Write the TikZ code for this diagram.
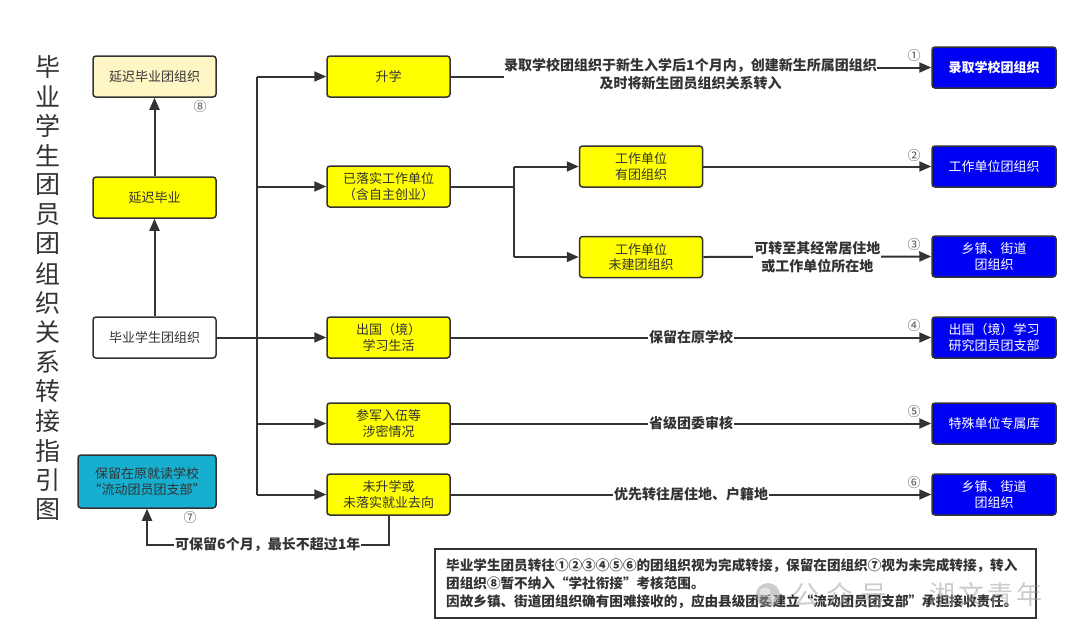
\documentclass[tikz,border=0pt]{standalone}
\usepackage{fontspec}
\setmainfont{Noto Sans CJK SC}
\usetikzlibrary{arrows.meta}
\definecolor{lc}{HTML}{333333}
\definecolor{yel}{HTML}{FFFF00}
\definecolor{lyel}{HTML}{FFF6C6}
\definecolor{bluebox}{HTML}{0000F2}
\definecolor{cyanbox}{HTML}{17AFCF}
\definecolor{wm}{HTML}{9A9A9A}
\newcommand\bxfont{\fontsize{13}{15.5}\selectfont}
\newcommand\lbfont{\bfseries\fontsize{14}{18}\selectfont}
\tikzset{
  box/.style={draw=lc, line width=1.5pt, rounded corners=3pt, minimum width=123pt,
    minimum height=41pt, inner sep=0pt, align=center, font=\bxfont, text=lc},
  ybox/.style={box, fill=yel},
  bbox/.style={box, fill=bluebox, text=white, minimum width=124pt},
  ln/.style={draw=lc, line width=2pt},
  arr/.style={ln, -{Triangle[length=12pt,width=10pt]}},
  lbl/.style={fill=white, inner sep=1pt, font=\lbfont, text=lc, align=center},
  num/.style={font=\fontsize{13}{13}\selectfont, text=lc!85, inner sep=0pt},
  titlech/.style={font=\fontsize{25}{25}\selectfont, text=lc, inner sep=0pt}
}
\begin{document}
\begin{tikzpicture}[x=1pt,y=-1pt]
\useasboundingbox (0,0) rectangle (1080,641);
\fill[white] (0,0) rectangle (1080,641);

% title
\foreach \c [count=\i from 0] in {毕,业,学,生,团,员,团,组,织,关,系,转,接,指,引,图}
  \node[titlech] (t\i) at (48,{67+29.5*\i}) {\c};

% left column
\node[box, fill=lyel] (delayorg) at (154.5,76.5) {延迟毕业团组织};
\node[ybox] (delay) at (154.5,197.5) {延迟毕业};
\node[box, fill=white] (grad) at (154.5,337.5) {毕业学生团组织};
\node[box, fill=cyanbox, minimum width=138pt, minimum height=53pt] (keep) at (147,481.5) {保留在原就读学校\\“流动团员团支部”};
\node[num] (n8) at (200,107) {⑧};
\node[num] (n7) at (190,518) {⑦};

% second column
\node[ybox] (shengxue) at (388.5,76.5) {升学};
\node[ybox] (yiluoshi) at (388.5,186.5) {已落实工作单位\\（含自主创业）};
\node[ybox] (chuguo) at (388.5,337.5) {出国（境）\\学习生活};
\node[ybox] (canjun) at (388.5,423.5) {参军入伍等\\涉密情况};
\node[ybox] (weisheng) at (388.5,494.5) {未升学或\\未落实就业去向};

% third column
\node[ybox, minimum width=123pt] (youtuan) at (641,166.5) {工作单位\\有团组织};
\node[ybox, minimum width=123pt] (weijian) at (641,257) {工作单位\\未建团组织};

% blue column
\node[bbox, font=\bxfont\bfseries] (b1) at (994,67.5) {录取学校团组织};
\node[bbox] (b2) at (994,166.5) {工作单位团组织};
\node[bbox] (b3) at (994,256.5) {乡镇、街道\\团组织};
\node[bbox] (b4) at (994,337.5) {出国（境）学习\\研究团员团支部};
\node[bbox] (b5) at (994,423.5) {特殊单位专属库};
\node[bbox] (b6) at (994,494.5) {乡镇、街道\\团组织};

\node[num] (n1) at (914,56) {①};
\node[num] (n2) at (914,156) {②};
\node[num] (n3) at (914,245) {③};
\node[num] (n4) at (914,326) {④};
\node[num] (n5) at (914,412) {⑤};
\node[num] (n6) at (914,483) {⑥};

% connectors, left
\draw[arr] (grad.north) -- (delay.south);
\draw[arr] (delay.north) -- (delayorg.south);
\coordinate (tx) at (257,337.5);
\draw[ln] (tx |- shengxue.west) -- (tx |- weisheng.west);
\draw[arr] (grad.east) -- (chuguo.west);
\draw[arr] (tx |- shengxue.west) -- (shengxue.west);
\draw[arr] (tx |- yiluoshi.west) -- (yiluoshi.west);
\draw[arr] (tx |- canjun.west) -- (canjun.west);
\draw[arr] (tx |- weisheng.west) -- (weisheng.west);

% work unit branch
\coordinate (bx) at (514,186.5);
\draw[ln] (yiluoshi.east) -- (bx);
\draw[ln] (bx |- youtuan.west) -- (bx |- weijian.west);
\draw[arr] (bx |- youtuan.west) -- (youtuan.west);
\draw[arr] (bx |- weijian.west) -- (weijian.west);

% 升学 -> 录取
\node[lbl, inner sep=0pt] (lab1) at (690.5,74.5) {录取学校团组织于新生入学后1个月内，创建新生所属团组织\\及时将新生团员组织关系转入};
\draw[ln] (shengxue.east) -- (lab1.west |- shengxue.east);
\draw[arr] (lab1.east |- b1.west) -- (b1.west);

% others to blue
\draw[arr] (youtuan.east) -- (b2.west);
\draw[arr] (weijian.east) -- (b3.west) node[lbl, midway] (lab3) {可转至其经常居住地\\或工作单位所在地};
\draw[arr] (chuguo.east) -- (b4.west) node[lbl, midway] (lab4) {保留在原学校};
\draw[arr] (canjun.east) -- (b5.west) node[lbl, midway] (lab5) {省级团委审核};
\draw[arr] (weisheng.east) -- (b6.west) node[lbl, midway] (lab6) {优先转往居住地、户籍地};

% bottom loop
\coordinate (lp) at (388.5,545);
\draw[arr] (weisheng.south) |- node[lbl, pos=0.75] (lab7) {可保留6个月，最长不超过1年} (keep.south |- lp) -- (keep.south);

% note box
\node[draw=lc, line width=2pt, minimum width=601pt, minimum height=69pt, inner sep=0pt] (note) at (735.5,583.5) {};
\node[anchor=west, align=left, inner sep=0pt, text=lc, font=\bfseries\fontsize{13.6}{18}\selectfont] (notetext) at (446,583.5)
 {毕业学生团员转往①②③④⑤⑥的团组织视为完成转接，保留在团组织⑦视为未完成转接，转入\\
  团组织⑧暂不纳入“学社衔接”考核范围。\\
  因故乡镇、街道团组织确有困难接收的，应由县级团委建立“流动团员团支部”承担接收责任。};

% watermark
\begin{scope}[opacity=0.5]
\fill[wm] (768,595) circle [radius=12pt];
\fill[white] (765,592) ellipse [x radius=5.5pt, y radius=4.5pt];
\fill[white] (772,599) ellipse [x radius=4.5pt, y radius=3.8pt];
\node[text=wm, font=\fontsize{27}{27}\selectfont, inner sep=0pt] (wm1) at (840,595) {公\hspace{7pt}众\hspace{7pt}号};
\node[text=wm, font=\fontsize{26}{26}\selectfont, inner sep=0pt] (wm3) at (986,595) {湘\hspace{3pt}文\hspace{3pt}青\hspace{3pt}年};
\end{scope}
\end{tikzpicture}
\end{document}
